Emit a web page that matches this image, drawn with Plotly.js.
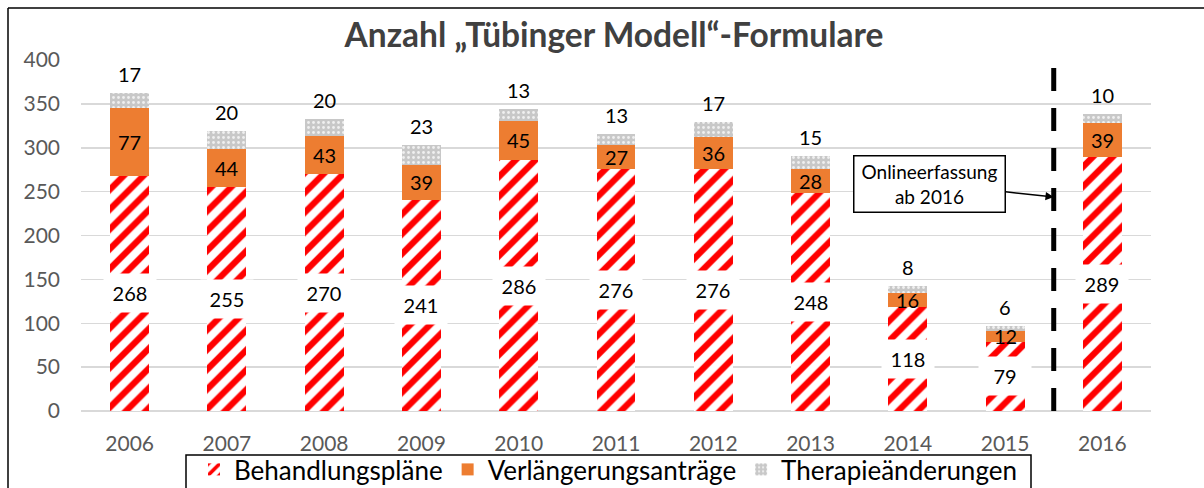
<!DOCTYPE html>
<html>
<head>
<meta charset="utf-8">
<script src="https://cdn.plot.ly/plotly-3.0.1.min.js"></script>
<style>
html,body{margin:0;padding:0;background:#fff;overflow:hidden;}
#chart{width:1204px;height:520px;}
</style>
</head>
<body>
<div id="chart"></div>
<script>
const years = ['2006','2007','2008','2009','2010','2011','2012','2013','2014','2015','2016'];
const behandlung = [268,255,270,241,286,276,276,248,118,79,289];
const verlaengerung = [77,44,43,39,45,27,36,28,16,12,39];
const therapie = [17,20,20,23,13,13,17,15,8,6,10];
const seriesNames = ['Behandlungspläne','Verlängerungsanträge','Therapieänderungen'];
const titleText = 'Anzahl „Tübinger Modell“-Formulare';
const noteText = 'Onlineerfassung<br>ab 2016';

const FONT = 'Lato, "Open Sans", sans-serif';
const W = 1204, H = 520;
const L = 81, R = 53, T = 60, B = H - 411;
const pw = W - L - R, ph = H - T - B;
const px2x = p => (p - L) / pw;
const py2y = p => (H - B - p) / ph;

const traces = [
  {
    type: 'bar', name: seriesNames[0], x: years, y: behandlung,
    width: 0.4,
    marker: {color: '#ffffff', line: {width: 0},
      pattern: {shape: '/', fgcolor: '#ff0000', bgcolor: '#ffffff', size: 14, solidity: 0.45}},
    hoverinfo: 'y'
  },
  {
    type: 'bar', name: seriesNames[1], x: years, y: verlaengerung,
    width: 0.4,
    marker: {color: '#ED7D31', line: {width: 0}},
    hoverinfo: 'y'
  },
  {
    type: 'bar', name: seriesNames[2], x: years, y: therapie,
    width: 0.4,
    marker: {color: '#d0d0d0', line: {width: 0},
      pattern: {shape: '.', fgcolor: '#f0f0f0', bgcolor: '#c8c8c8', size: 5, solidity: 0.25}},
    hoverinfo: 'y'
  }
];

const annotations = [];
years.forEach((yr, i) => {
  annotations.push({
    x: i, y: behandlung[i] / 2, xref: 'x', yref: 'y', text: String(behandlung[i]),
    showarrow: false, bgcolor: '#ffffff', width: 50, height: 36,
    font: {family: FONT, size: 20, color: '#000'}
  });
  annotations.push({
    x: i, y: behandlung[i] + verlaengerung[i] / 2, xref: 'x', yref: 'y', text: String(verlaengerung[i]),
    showarrow: false, font: {family: FONT, size: 20, color: '#000'}
  });
  annotations.push({
    x: i, y: behandlung[i] + verlaengerung[i] + therapie[i], xref: 'x', yref: 'y',
    text: String(therapie[i]), showarrow: false, yanchor: 'bottom', yshift: 5,
    font: {family: FONT, size: 20, color: '#000'}
  });
});
annotations.push({
  x: 9.5, y: 244, xref: 'x', yref: 'y', text: noteText,
  showarrow: true, ax: -124, ay: -13, arrowhead: 2, arrowsize: 1.1, arrowwidth: 1.5, arrowcolor: '#000',
  bgcolor: '#ffffff', bordercolor: '#000', borderwidth: 1.5, width: 148, height: 53,
  font: {family: FONT, size: 19, color: '#000'}
});

const layout = {
  width: W, height: H, autosize: false,
  margin: {l: L, r: R, t: T, b: B},
  paper_bgcolor: '#ffffff', plot_bgcolor: '#ffffff',
  barmode: 'stack',
  title: {text: titleText, x: 614 / W, xanchor: 'center', y: 1 - 35 / H, yanchor: 'middle',
    font: {family: FONT, size: 33.5, color: '#404040', weight: 'bold'}},
  xaxis: {type: 'category', range: [-0.5, 10.5], showgrid: false, showline: false, zeroline: false,
    ticks: '', ticklabelstandoff: 18, tickfont: {family: FONT, size: 21, color: '#595959'}, fixedrange: true},
  yaxis: {range: [0, 400], dtick: 50, tick0: 0, gridcolor: '#d9d9d9', gridwidth: 1.5,
    zeroline: true, zerolinecolor: '#d9d9d9', zerolinewidth: 1.5, showline: false,
    ticks: '', ticklabelstandoff: 20, tickfont: {family: FONT, size: 21, color: '#595959'}, fixedrange: true},
  legend: {orientation: 'h', x: px2x(608), xanchor: 'center', y: py2y(446), yanchor: 'top',
    borderwidth: 0, bgcolor: 'rgba(0,0,0,0)', traceorder: 'normal',
    font: {family: FONT, size: 26, color: '#000'}},
  shapes: [
    {type: 'line', xref: 'x', yref: 'y', x0: 9.5, x1: 9.5, y0: 0, y1: 391,
      line: {color: '#000', width: 5, dash: '23px,17px'}},
    {type: 'line', xref: 'paper', yref: 'paper', x0: px2x(8), x1: px2x(1210), y0: py2y(8), y1: py2y(8),
      line: {color: '#000', width: 1.5}},
    {type: 'line', xref: 'paper', yref: 'paper', x0: px2x(8), x1: px2x(8), y0: py2y(8), y1: py2y(H + 5),
      line: {color: '#000', width: 1.5}},
    {type: 'rect', xref: 'paper', yref: 'paper', x0: px2x(186), x1: px2x(1031), y0: py2y(455), y1: py2y(505),
      line: {color: '#000', width: 1.5}, fillcolor: 'rgba(0,0,0,0)'}
  ],
  annotations: annotations,
  showlegend: true
};

Plotly.newPlot('chart', traces, layout, {displayModeBar: false, staticPlot: true});
</script>
</body>
</html>
